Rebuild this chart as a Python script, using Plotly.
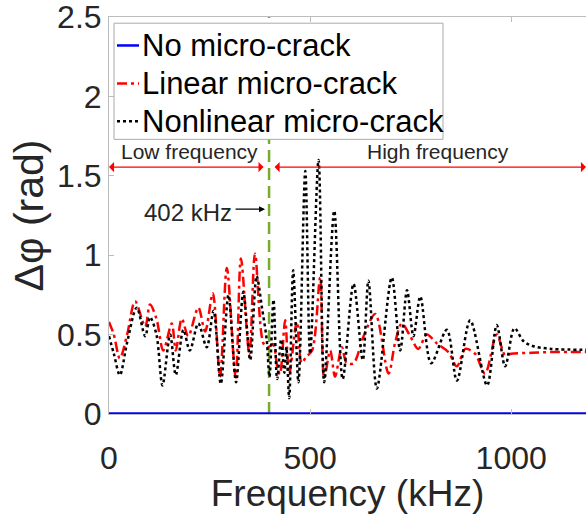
import plotly.graph_objects as go

# ---- data ----
freq_none = [0, 1200]
phase_none = [0, 0]

freq_linear = [0, 12, 27, 45, 65, 90, 102, 118, 135, 156, 166, 181, 197, 222, 239, 258,
               276, 293, 315, 328, 349, 363, 384, 395, 408, 418, 425, 438, 448, 467, 479,
               490, 505, 525, 535, 550, 562, 579, 591, 608, 633, 662, 695, 711, 728, 749,
               769, 790, 815, 844, 865, 886, 910, 935, 964, 985, 1000, 1050, 1100, 1200]
phase_linear = [0.58, 0.50, 0.35, 0.50, 0.71, 0.55, 0.69, 0.60, 0.40, 0.57, 0.40, 0.60, 0.49,
                0.67, 0.52, 0.76, 0.235, 0.92, 0.23, 0.98, 0.38, 1.01, 0.445, 0.42, 0.44,
                0.30, 0.25, 0.59, 0.25, 0.58, 0.32, 0.36, 0.40, 0.86, 0.225, 0.40, 0.235,
                0.42, 0.32, 0.32, 0.49, 0.63, 0.255, 0.445, 0.57, 0.49, 0.41, 0.50, 0.445,
                0.39, 0.30, 0.41, 0.38, 0.255, 0.50, 0.37, 0.38, 0.385, 0.39, 0.39]

freq_nonlinear = [0, 12, 27, 45, 69, 90, 102, 118, 133, 152, 166, 185, 201, 222, 243, 260,
                  278, 297, 316, 334, 351, 367, 380, 392, 399, 409, 418, 428, 436, 441, 448,
                  458, 471, 488, 500, 521, 535, 560, 581, 608, 631, 645, 666, 703, 724, 741,
                  757, 774, 801, 840, 865, 898, 940, 964, 985, 1008, 1030, 1051, 1100, 1200]
phase_nonlinear = [0.49, 0.38, 0.245, 0.45, 0.67, 0.49, 0.61, 0.50, 0.18, 0.50, 0.245, 0.53,
                   0.40, 0.57, 0.42, 0.65, 0.19, 0.75, 0.20, 0.77, 0.34, 0.87, 0.675, 0.47,
                   0.235, 0.72, 0.22, 0.47, 0.26, 0.42, 0.10, 0.905, 0.20, 1.53, 0.38, 1.60,
                   0.20, 1.28, 0.22, 0.82, 0.34, 0.84, 0.16, 0.86, 0.40, 0.78, 0.49, 0.74,
                   0.32, 0.53, 0.21, 0.59, 0.18, 0.56, 0.30, 0.54, 0.46, 0.43, 0.41, 0.405]

series_names = ["No micro-crack", "Linear micro-crack", "Nonlinear micro-crack"]
series_colors = ["#0000FF", "#FF0000", "#000000"]
series_dash = ["solid", "10px,4px,3px,4px", "dot"]

boundary_khz = 398
boundary_line_y = [0, 2.5]
arrow_y = 1.555
x_max = 1186
x_ticks = [0, 500, 1000]
y_ticks = [0, 0.5, 1, 1.5, 2, 2.5]
y_tick_text = ["0", "0.5", "1", "1.5", "2", "2.5"]

FONT = "Arial, Liberation Sans, Helvetica, sans-serif"
TXT = "#262626"
AX = "#bdbdbd"

fig = go.Figure()
fig.add_trace(go.Scatter(x=[boundary_khz, boundary_khz], y=boundary_line_y, mode="lines",
                         line=dict(color="#77AC30", width=2.5, dash="12px,6px"),
                         showlegend=False, hoverinfo="skip"))
fig.add_trace(go.Scatter(x=freq_none, y=phase_none, mode="lines", name=series_names[0],
                         line=dict(color=series_colors[0], width=3.5)))
fig.add_trace(go.Scatter(x=freq_linear, y=phase_linear, mode="lines", name=series_names[1],
                         line=dict(color=series_colors[1], width=2.5, dash=series_dash[1],
                                   shape="spline", smoothing=0.9)))
fig.add_trace(go.Scatter(x=freq_nonlinear, y=phase_nonlinear, mode="lines",
                         name=series_names[2],
                         line=dict(color=series_colors[2], width=2.5, dash="dot",
                                   shape="spline", smoothing=0.9)))

annotations = [
    dict(x=0, y=arrow_y, ax=388, ay=arrow_y, xref="x", yref="y", axref="x", ayref="y",
         text="", showarrow=True, arrowhead=1, arrowside="end+start", arrowsize=1.4,
         arrowwidth=1.2, arrowcolor="#FF0000", startarrowhead=1, startarrowsize=1.4),
    dict(x=x_max, y=arrow_y, ax=408, ay=arrow_y, xref="x", yref="y", axref="x", ayref="y",
         text="", showarrow=True, arrowhead=1, arrowside="end+start", arrowsize=1.4,
         arrowwidth=1.2, arrowcolor="#FF0000", startarrowhead=1, startarrowsize=1.4),
    dict(x=199, y=1.655, xref="x", yref="y", text="Low frequency", showarrow=False,
         font=dict(size=21, color=TXT, family=FONT)),
    dict(x=817, y=1.655, xref="x", yref="y", text="High frequency", showarrow=False,
         font=dict(size=21, color=TXT, family=FONT)),
    dict(x=388, y=1.29, ax=311, ay=1.29, xref="x", yref="y", axref="x", ayref="y",
         text="", showarrow=True, arrowhead=2, arrowsize=1, arrowwidth=1.2,
         arrowcolor="#000000"),
    dict(x=310, y=1.27, xref="x", yref="y", text="402 kHz", showarrow=False,
         xanchor="right", font=dict(size=24, color=TXT, family=FONT)),
]

# ---- compact MATLAB-style legend (box, sample lines, labels in paper coords) ----
W_PLOT, H_PLOT, L0, B0 = 477.0, 397.5, 109.0, 414.0
def px_x(px):
    return (px - L0) / W_PLOT
def px_y(py):
    return (B0 - py) / H_PLOT

shapes = [dict(type="rect", xref="paper", yref="paper",
               x0=px_x(114), x1=px_x(443), y0=px_y(139), y1=px_y(22.7),
               fillcolor="white", line=dict(color="#aaaaaa", width=1), layer="above")]
legend_rows = [45, 83, 121]
for name, col, dsh, py in zip(series_names, series_colors, series_dash, legend_rows):
    shapes.append(dict(type="line", xref="paper", yref="paper",
                       x0=px_x(117), x1=px_x(139), y0=px_y(py), y1=px_y(py),
                       line=dict(color=col, width=2.5, dash=dsh), layer="above"))
    annotations.append(dict(x=px_x(140), y=px_y(py), xref="paper", yref="paper",
                            text=name, showarrow=False, xanchor="left", yanchor="middle",
                            font=dict(size=31, color="#000000", family=FONT)))

fig.update_layout(
    width=586, height=514,
    margin=dict(l=109, r=0, t=16.5, b=100, pad=0),
    paper_bgcolor="white", plot_bgcolor="white",
    font=dict(family=FONT, color=TXT),
    annotations=annotations,
    shapes=shapes,
    showlegend=False,
    xaxis=dict(range=[0, x_max], tickvals=x_ticks, ticks="inside", ticklen=5,
               tickcolor=AX, showline=True, linecolor=AX, mirror="ticks",
               showgrid=False, zeroline=False, ticklabelstandoff=16,
               ticklabeloverflow="allow",
               tickfont=dict(size=32, color=TXT, family=FONT),
               title=dict(text="Frequency (kHz)", font=dict(size=37, color=TXT, family=FONT),
                          standoff=5)),
    yaxis=dict(range=[0, 2.5005], tickvals=y_ticks, ticktext=y_tick_text, ticks="inside",
               ticklen=5, tickcolor=AX, showline=True, linecolor=AX, mirror=False,
               showgrid=False, zeroline=False, ticklabeloverflow="allow",
               tickfont=dict(size=32, color=TXT, family=FONT),
               title=dict(text="Δφ (rad)", font=dict(size=41, color=TXT, family=FONT),
                          standoff=0)),
)

fig.write_html("out.html")
